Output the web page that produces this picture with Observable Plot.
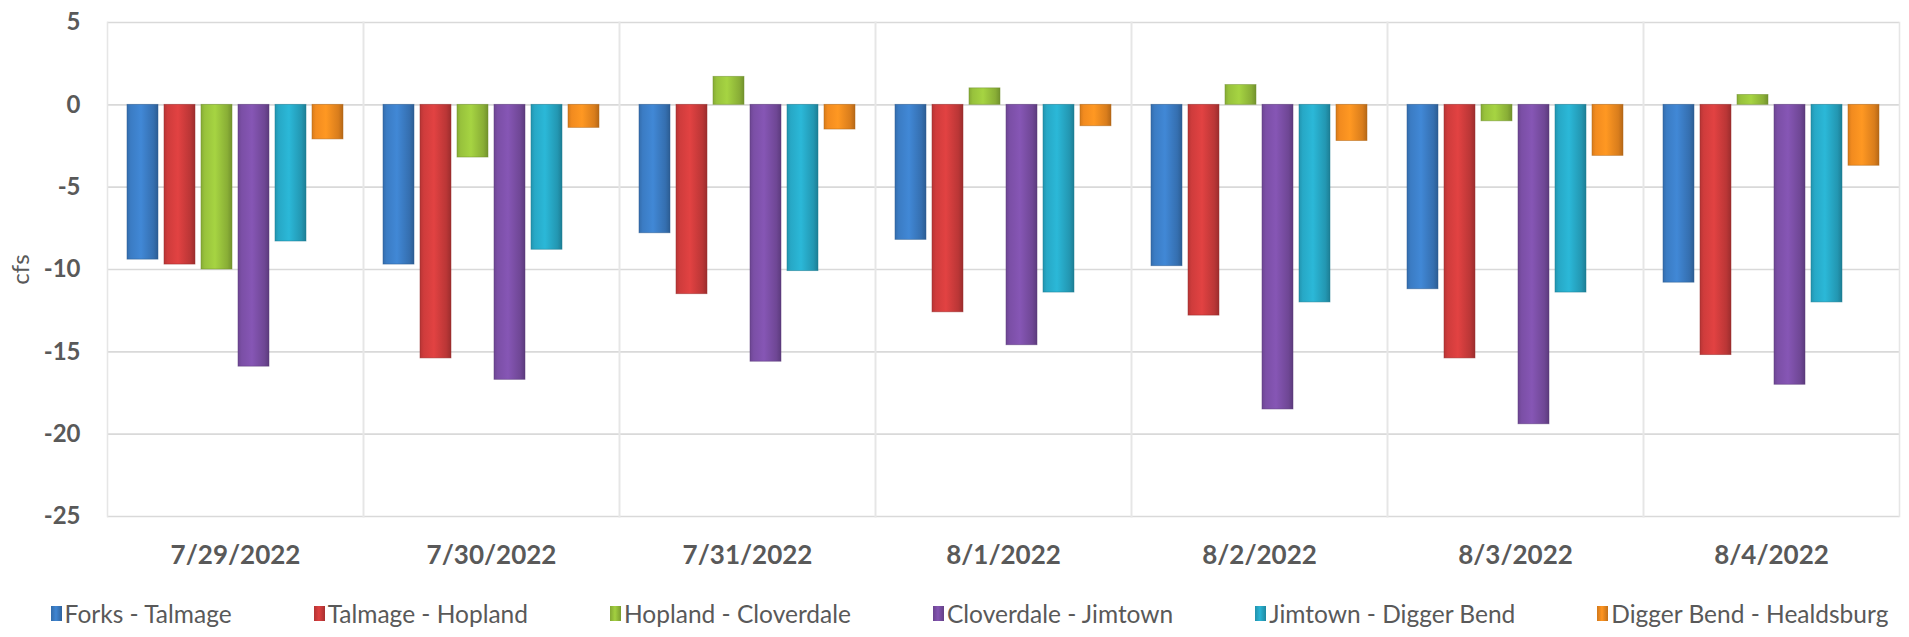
<!DOCTYPE html>
<html>
<head>
<meta charset="utf-8">
<script src="https://cdn.jsdelivr.net/npm/d3@7"></script>
<script src="https://cdn.jsdelivr.net/npm/@observablehq/plot@0.6"></script>
<style>
  html, body { margin: 0; padding: 0; background: #ffffff; }
  #chart { width: 1909px; }
  #legend {
    width: 1879px; padding-left: 30px; height: 47px; display: flex; justify-content: center; align-items: center;
    gap: 82px; font-family: Lato, "Open Sans", sans-serif; font-size: 24.5px; color: #595959;
  }
  .item { display: flex; align-items: center; white-space: nowrap; }
  .sw { width: 11px; height: 15px; margin-right: 3px; display: inline-block; }
</style>
</head>
<body>
<div id="chart"></div>
<div id="legend"></div>
<script>
const dates = ["7/29/2022", "7/30/2022", "7/31/2022", "8/1/2022", "8/2/2022", "8/3/2022", "8/4/2022"];
const series = ["Forks - Talmage", "Talmage - Hopland", "Hopland - Cloverdale", "Cloverdale - Jimtown", "Jimtown - Digger Bend", "Digger Bend - Healdsburg"];
const forksTalmage        = [-9.4, -9.7, -7.8, -8.2, -9.8, -11.2, -10.8];
const talmageHopland      = [-9.7, -15.4, -11.5, -12.6, -12.8, -15.4, -15.2];
const hoplandCloverdale   = [-10.0, -3.2, 1.7, 1.0, 1.2, -1.0, 0.6];
const cloverdaleJimtown   = [-15.9, -16.7, -15.6, -14.6, -18.5, -19.4, -17.0];
const jimtownDiggerBend   = [-8.3, -8.8, -10.1, -11.4, -12.0, -11.4, -12.0];
const diggerBendHealdsburg = [-2.1, -1.4, -1.5, -1.3, -2.2, -3.1, -3.7];
const yTicks = [5, 0, -5, -10, -15, -20, -25];
const colors = ["#3b7cc4", "#cf3c3c", "#98c23c", "#7b4fa6", "#27a8c6", "#f28b1f"];

const valuesBySeries = [forksTalmage, talmageHopland, hoplandCloverdale, cloverdaleJimtown, jimtownDiggerBend, diggerBendHealdsburg];
const data = [];
dates.forEach((d, i) => series.forEach((s, j) => data.push({date: d, series: s, value: valuesBySeries[j][i]})));

const gradIds = series.map((s, j) => `grad${j}`);
const darker = c => d3.color(c).darker(0.9).formatHex();

const svg = Plot.plot({
  width: 1909,
  height: 590,
  marginLeft: 107,
  marginRight: 10,
  marginTop: 22,
  marginBottom: 74,
  style: {fontFamily: "Lato, 'Open Sans', sans-serif", color: "#595959", background: "#ffffff", overflow: "visible"},
  fx: {domain: dates, padding: 0, label: null},
  x: {domain: series, axis: null, paddingInner: 0.15, paddingOuter: 0.5},
  y: {domain: [-25, 5], label: null},
  color: {domain: series, range: gradIds.map(id => `url(#${id})`)},
  marks: [
    Plot.gridY(yTicks, {stroke: "#d9d9d9", strokeOpacity: 1, strokeWidth: 1.6}),
    Plot.frame({anchor: "left", stroke: "#e6e6e6", strokeWidth: 1.6}),
    Plot.frame({anchor: "right", stroke: "#e6e6e6", strokeWidth: 1.6}),
    Plot.barY(data, {
      fx: "date", x: "series", y: "value", fill: "series",
      stroke: d => darker(colors[series.indexOf(d.series)]), strokeWidth: 0.8, strokeOpacity: 0.6
    }),
    Plot.axisFx({anchor: "bottom", tickSize: 0, tickPadding: 29, fontSize: 26, fontWeight: "bold", label: null}),
    Plot.axisY(yTicks, {tickSize: 0, tickPadding: 27, fontSize: 24, fontWeight: "bold", label: null, tickFormat: d => String(d)}),
    Plot.axisY({ticks: [], label: "cfs", labelAnchor: "center", labelArrow: "none", labelOffset: 96})
  ]
});

// enlarge the axis title
d3.select(svg).selectAll("text").filter(function() { return this.textContent === "cfs"; })
  .attr("font-size", 24).style("font-size", "24px").style("font-weight", "normal");

// gradient defs to emulate bevelled bars
const defs = d3.select(svg).insert("defs", ":first-child");
colors.forEach((c, j) => {
  const base = d3.color(c);
  const g = defs.append("linearGradient").attr("id", gradIds[j]).attr("x1", 0).attr("x2", 1).attr("y1", 0).attr("y2", 0);
  g.append("stop").attr("offset", "0%").attr("stop-color", base.darker(0.35).formatHex());
  g.append("stop").attr("offset", "12%").attr("stop-color", base.formatHex());
  g.append("stop").attr("offset", "45%").attr("stop-color", base.brighter(0.25).formatHex());
  g.append("stop").attr("offset", "85%").attr("stop-color", base.darker(0.3).formatHex());
  g.append("stop").attr("offset", "100%").attr("stop-color", base.darker(0.8).formatHex());
});

document.getElementById("chart").appendChild(svg);

const legend = d3.select("#legend");
series.forEach((s, j) => {
  const it = legend.append("div").attr("class", "item");
  const base = d3.color(colors[j]);
  it.append("span").attr("class", "sw")
    .style("background", `linear-gradient(to right, ${base.darker(0.4).formatHex()}, ${base.brighter(0.2).formatHex()} 45%, ${base.darker(0.6).formatHex()})`);
  it.append("span").text(s);
});
</script>
</body>
</html>
